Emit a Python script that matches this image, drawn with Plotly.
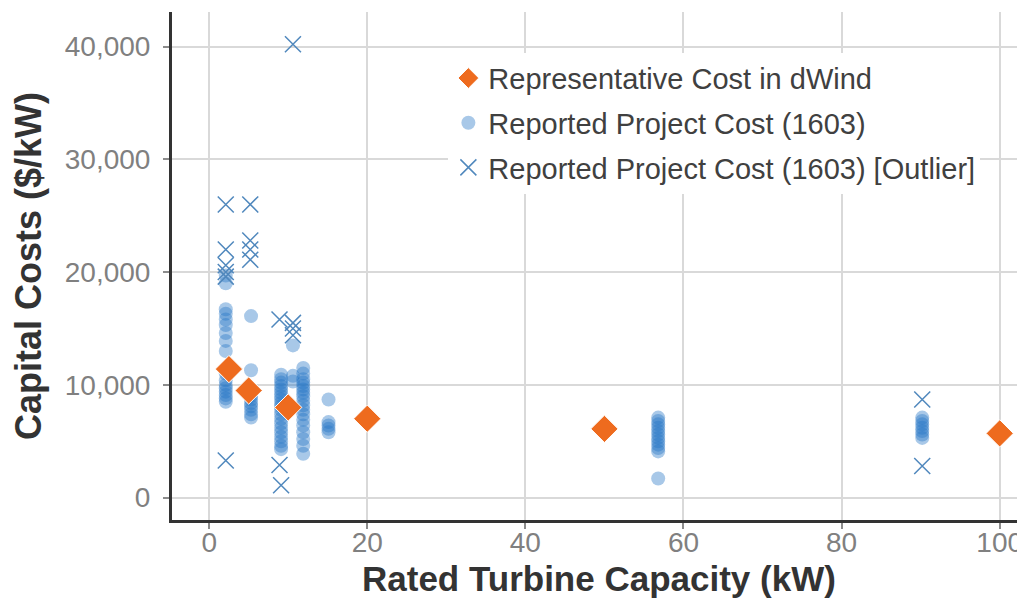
from plotly import graph_objects as go

# representative costs used in dWind
rep_kw = [2.5, 5, 10, 20, 50, 100]
rep_cost = [11400, 9500, 8000, 7000, 6100, 5700]

# reported project costs (1603), one list of costs per turbine size
proj_groups = {
    2.1: [19700, 19000, 16700, 16300, 15800, 15300, 14600, 13900, 13000,
          11000, 10400, 10000, 9700, 9400, 9100, 8800, 8500],
    5.3: [16100, 11300, 9300, 9000, 8700, 8400, 8100, 7800, 7400, 7100],
    9.1: [10900, 10500, 10200, 9900, 9600, 9300, 9000, 8700, 8400, 8100,
          7800, 7400, 7000, 6600, 6200, 5800, 5400, 5000, 4600, 4300],
    10.6: [13500, 10800, 10300],
    11.9: [11500, 11000, 10500, 10200, 9900, 9600, 9300, 9000, 8600, 8200,
           7800, 7400, 6900, 6400, 5800, 5200, 4600, 3900],
    15.1: [8700, 6700, 6400, 6100, 5800],
    56.8: [7100, 6800, 6500, 6200, 5900, 5600, 5300, 5000, 4700, 4400, 4100, 1700],
    90.2: [7100, 6800, 6500, 6200, 5900, 5600, 5300],
}

# outliers
out_groups = {
    2.1: [26000, 22000, 20600, 20000, 19600, 3300],
    5.2: [26000, 22800, 22000, 21100],
    8.9: [15800, 2900],
    9.1: [1100],
    10.6: [40200, 15500, 15000, 14400],
    90.2: [8700, 2800],
}

proj_kw, proj_cost = [], []
for k, vals in proj_groups.items():
    proj_kw += [k] * len(vals)
    proj_cost += vals

out_kw, out_cost = [], []
for k, vals in out_groups.items():
    out_kw += [k] * len(vals)
    out_cost += vals

font_family = "Liberation Sans, Arial, sans-serif"

fig = go.Figure()
fig.add_trace(go.Scatter(
    x=proj_kw, y=proj_cost, mode="markers", name="Reported Project Cost (1603)",
    legendgroup="b", legendrank=2,
    marker=dict(symbol="circle", size=14, color="rgba(37,117,197,0.4)",
                line=dict(width=0))))
fig.add_trace(go.Scatter(
    x=out_kw, y=out_cost, mode="markers",
    name="Reported Project Cost (1603) [Outlier]",
    legendgroup="c", legendrank=3,
    marker=dict(symbol="x-thin", size=16, color="#5088bd",
                line=dict(color="#5088bd", width=1.5))))
# diamonds last so they sit on top
fig.add_trace(go.Scatter(
    x=rep_kw, y=rep_cost, mode="markers", name="Representative Cost in dWind",
    legendgroup="a", legendrank=1,
    marker=dict(symbol="diamond", size=21, color="#ee6b1e",
                line=dict(color="white", width=1))))

axis_common = dict(
    showgrid=True, gridcolor="#d9d9d9", gridwidth=2,
    showline=True, linecolor="#333333", linewidth=3,
    ticks="outside", ticklen=6, tickwidth=2, tickcolor="#8c8c8c",
    tickfont=dict(size=28, color="#808080", family=font_family),
    zeroline=False, automargin=False,
)

# the page body has an 8px margin, so the figure is 8px smaller than the window
fig.update_layout(
    width=1017, height=593,
    margin=dict(l=164, r=0, t=4, b=81),
    plot_bgcolor="white", paper_bgcolor="white",
    font=dict(family=font_family),
    xaxis=dict(range=[-4.7, 103.2], dtick=20, ticklabelstandoff=-11,
               **axis_common),
    yaxis=dict(range=[-1980, 43060], tickvals=[0, 10000, 20000, 30000, 40000],
               tickformat=",d", ticklabelstandoff=7,
               title=dict(text="<b>Capital Costs ($/kW)</b>",
                          font=dict(size=36, color="#333333")),
               **axis_common),
    legend=dict(x=0.324, y=0.92, xanchor="left", yanchor="top",
                bgcolor="white", borderwidth=0,
                traceorder="grouped", tracegroupgap=4,
                font=dict(size=29, color="#404040", family=font_family)),
    showlegend=True,
)

# x title as an annotation so it can sit close under the tick labels
fig.add_annotation(
    text="<b>Rated Turbine Capacity (kW)</b>", xref="paper", yref="paper",
    x=0.5, y=-0.116, xanchor="center", yanchor="middle", showarrow=False,
    font=dict(size=35, color="#333333", family=font_family))

fig.write_html("out.html")
